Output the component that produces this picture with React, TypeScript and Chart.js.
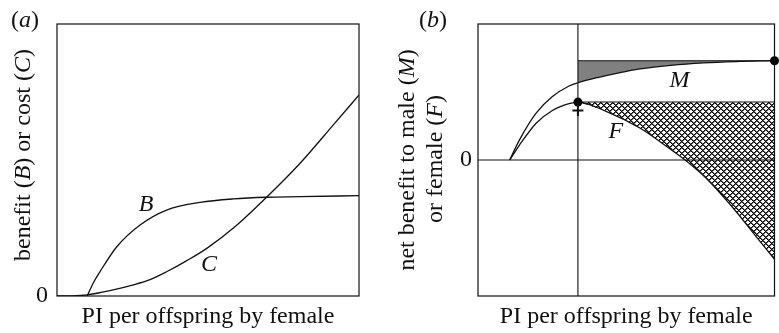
import React, { useEffect, useRef } from "react";
import { Chart, registerables } from "chart.js";

Chart.register(...registerables);

// ---------- Panel (a) data ----------
const benefitX = [1.0, 1.2, 1.42, 1.98, 2.75, 3.63, 4.74, 5.84, 6.94, 8.05, 10];
const benefitY = [0, 0.48, 0.89, 1.81, 2.61, 3.16, 3.44, 3.57, 3.63, 3.65, 3.69];
const costX = [0, 0.5, 1.0, 1.5, 2.0, 2.5, 3.08, 3.63, 4.3, 4.96, 5.95, 6.94, 8.05, 9.15, 10];
const costY = [0, 0.005, 0.04, 0.14, 0.26, 0.4, 0.6, 0.89, 1.3, 1.75, 2.6, 3.63, 4.88, 6.29, 7.39];

// ---------- Panel (b) data ----------
const maleX = [1.07, 1.4, 1.96, 2.51, 3.07, 3.37, 4.07, 4.83, 5.4, 6.5, 7.6, 8.7, 10];
const maleY = [0, 0.74, 1.72, 2.33, 2.72, 2.84, 3.04, 3.22, 3.34, 3.48, 3.57, 3.62, 3.65];
const femaleX = [1.07, 1.4, 1.96, 2.51, 3.07, 3.37, 4.34, 5.46, 6.34, 7.07, 7.68, 8.57, 9.34, 10];
const femaleY = [0, 0.55, 1.35, 1.82, 2.07, 2.13, 1.78, 1.175, 0.515, -0.07, -0.65, -1.72, -2.76, -3.65];
const femaleOptimumX = 3.37;
const femaleOptimumY = 2.13;
const maleOptimumX = 10;
const maleOptimumY = 3.65;

// ---------- Text ----------
type Seg = [string, boolean];
const xTitle = "PI per offspring by female";
const yTitleA: Seg[] = [["benefit (", false], ["B", true], [") or cost (", false], ["C", true], [")", false]];
const yTitleB1: Seg[] = [["net benefit to male (", false], ["M", true], [")", false]];
const yTitleB2: Seg[] = [["or female (", false], ["F", true], [")", false]];
const panelA: Seg[] = [["(", false], ["a", true], [")", false]];
const panelB: Seg[] = [["(", false], ["b", true], [")", false]];
const zeroTick = "0";
const curveLabelsA = [
  { text: "B", x: 2.95, y: 3.35 },
  { text: "C", x: 5.03, y: 1.14 },
];
const curveLabelsB = [
  { text: "M", x: 6.8, y: 2.93 },
  { text: "F", x: 4.65, y: 1.04 },
];

const FAMILY = '"Liberation Serif", "Times New Roman", Times, serif';
const SIZE = 24;
const INK = "#111";

const zip = (xs: number[], ys: number[]) => xs.map((x, i) => ({ x, y: ys[i] }));

function drawRich(ctx: CanvasRenderingContext2D, segs: Seg[], cx: number, cy: number, rot: number, size = SIZE) {
  ctx.save();
  ctx.translate(cx, cy);
  ctx.rotate(rot);
  ctx.textBaseline = "middle";
  ctx.textAlign = "left";
  ctx.fillStyle = INK;
  const widths = segs.map(([t, it]) => {
    ctx.font = `${it ? "italic " : ""}${size}px ${FAMILY}`;
    return ctx.measureText(t).width;
  });
  const total = widths.reduce((a, b) => a + b, 0);
  let x = -total / 2;
  segs.forEach(([t, it], i) => {
    ctx.font = `${it ? "italic " : ""}${size}px ${FAMILY}`;
    ctx.fillText(t, x, 0);
    x += widths[i];
  });
  ctx.restore();
}

function makeHatch(): CanvasPattern | string {
  const n = 6;
  const c = document.createElement("canvas");
  c.width = n;
  c.height = n;
  const g = c.getContext("2d");
  if (!g) return "#888";
  const img = g.createImageData(n, n);
  for (let j = 0; j < n; j++) {
    for (let i = 0; i < n; i++) {
      const a = (((i - j) % n) + n) % n;
      const b = (i + j) % n;
      let v = 255;
      if (a === 0 || b === 0) v = 0;
      else if (a === 1 || b === 1) v = 95;
      const k = (j * n + i) * 4;
      img.data[k] = v;
      img.data[k + 1] = v;
      img.data[k + 2] = v;
      img.data[k + 3] = 255;
    }
  }
  g.putImageData(img, 0, 0);
  const p = g.createPattern(c, "repeat");
  return p || "#888";
}

const curve = (data: { x: number; y: number }[]) => ({
  data,
  borderColor: INK,
  borderWidth: 1.3,
  pointRadius: 0,
  cubicInterpolationMode: "monotone" as const,
  fill: false,
});
const straight = (data: { x: number; y: number }[]) => ({
  data,
  borderColor: INK,
  borderWidth: 1.1,
  pointRadius: 0,
  tension: 0,
  fill: false,
});

const baseOptions = (ymin: number, ymax: number, padding: any, extra: any) => ({
  responsive: false,
  animation: false as const,
  devicePixelRatio: 1,
  events: [] as any[],
  layout: { padding },
  scales: {
    x: { type: "linear" as const, min: 0, max: 10, display: false },
    y: { type: "linear" as const, min: ymin, max: ymax, display: false },
  },
  plugins: { legend: { display: false }, tooltip: { enabled: false }, ...extra },
});

function drawZero(ctx: CanvasRenderingContext2D, x: number, y: number) {
  ctx.save();
  ctx.font = `${SIZE}px ${FAMILY}`;
  ctx.fillStyle = INK;
  ctx.textAlign = "right";
  ctx.textBaseline = "middle";
  ctx.fillText(zeroTick, x, y);
  ctx.restore();
}

export default function App() {
  const refA = useRef<HTMLCanvasElement>(null);
  const refB = useRef<HTMLCanvasElement>(null);

  useEffect(() => {
    if (!refA.current || !refB.current) return;
    let alive = true;

    const decorA = {
      id: "decorA",
      afterDraw(chart: any) {
        const { ctx, chartArea: a, scales } = chart;
        ctx.save();
        ctx.strokeStyle = INK;
        ctx.lineWidth = 1.2;
        ctx.strokeRect(a.left, a.top, a.right - a.left, a.bottom - a.top);
        ctx.restore();
        const cx = (a.left + a.right) / 2;
        drawRich(ctx, [[xTitle, false]], cx, 317, 0);
        drawRich(ctx, yTitleA, 24, 155, -Math.PI / 2);
        drawRich(ctx, panelA, 25, 21, 0);
        drawZero(ctx, a.left - 9, scales.y.getPixelForValue(0));
        curveLabelsA.forEach((l) =>
          drawRich(ctx, [[l.text, true]], scales.x.getPixelForValue(l.x), scales.y.getPixelForValue(l.y), 0)
        );
      },
    };

    const decorB = {
      id: "decorB",
      afterDraw(chart: any) {
        const { ctx, chartArea: a, scales } = chart;
        ctx.save();
        ctx.strokeStyle = INK;
        ctx.lineWidth = 1.2;
        ctx.strokeRect(a.left, a.top, a.right - a.left, a.bottom - a.top);
        // female symbol cross under optimum dot
        const px = scales.x.getPixelForValue(femaleOptimumX);
        const py = scales.y.getPixelForValue(femaleOptimumY);
        ctx.lineWidth = 2;
        ctx.beginPath();
        ctx.moveTo(px, py);
        ctx.lineTo(px, py + 14);
        ctx.moveTo(px - 5.5, py + 8.5);
        ctx.lineTo(px + 5.5, py + 8.5);
        ctx.stroke();
        ctx.restore();
        const cx = (a.left + a.right) / 2;
        drawRich(ctx, [[xTitle, false]], cx, 317, 0);
        drawRich(ctx, yTitleB1, 18, 160, -Math.PI / 2);
        drawRich(ctx, yTitleB2, 46, 159, -Math.PI / 2);
        drawRich(ctx, panelB, 43, 21, 0);
        drawZero(ctx, a.left - 6, scales.y.getPixelForValue(0));
        curveLabelsB.forEach((l) =>
          drawRich(ctx, [[l.text, true]], scales.x.getPixelForValue(l.x), scales.y.getPixelForValue(l.y), 0)
        );
      },
    };

    const chartA = new Chart(refA.current, {
      type: "line",
      data: {
        datasets: [curve(zip(benefitX, benefitY)), curve(zip(costX, costY))] as any,
      },
      options: baseOptions(0, 10, { left: 57, right: 31, top: 24, bottom: 37 }, {}) as any,
      plugins: [decorA],
    });

    const hatch = makeHatch();
    const mRight = zip(maleX, maleY).filter((p) => p.x >= femaleOptimumX);
    const fRight = zip(femaleX, femaleY).filter((p) => p.x >= femaleOptimumX);

    const chartB = new Chart(refB.current, {
      type: "line",
      data: {
        datasets: [
          {
            data: [
              { x: femaleOptimumX, y: femaleOptimumY },
              { x: maleOptimumX, y: maleOptimumY },
            ],
            showLine: false,
            pointRadius: 4.5,
            pointBackgroundColor: "#000",
            pointBorderColor: "#000",
            pointBorderWidth: 0,
            clip: false,
          },
          curve(zip(maleX, maleY)),
          curve(zip(femaleX, femaleY)),
          straight([
            { x: femaleOptimumX, y: maleOptimumY },
            { x: 10, y: maleOptimumY },
          ]),
          straight([
            { x: femaleOptimumX, y: femaleOptimumY },
            { x: 10, y: femaleOptimumY },
          ]),
          straight([
            { x: 0, y: 0 },
            { x: 10, y: 0 },
          ]),
          straight([
            { x: femaleOptimumX, y: -5 },
            { x: femaleOptimumX, y: 5 },
          ]),
          {
            data: mRight,
            borderWidth: 0,
            pointRadius: 0,
            cubicInterpolationMode: "monotone",
            backgroundColor: "#808080",
            fill: { value: maleOptimumY },
          },
          {
            data: fRight,
            borderWidth: 0,
            pointRadius: 0,
            cubicInterpolationMode: "monotone",
            backgroundColor: hatch,
            fill: { value: femaleOptimumY },
          },
        ] as any,
      },
      options: baseOptions(-5, 5, { left: 88, right: 1, top: 24, bottom: 37 }, { filler: { propagate: false } }) as any,
      plugins: [decorB],
    });

    const fonts = (document as any).fonts;
    if (fonts && fonts.load) {
      Promise.all([
        fonts.load(`${SIZE}px "Liberation Serif"`),
        fonts.load(`italic ${SIZE}px "Liberation Serif"`),
      ])
        .catch(() => null)
        .then(() => {
          if (!alive) return;
          chartA.update();
          chartB.update();
        });
    }

    return () => {
      alive = false;
      chartA.destroy();
      chartB.destroy();
    };
  }, []);

  return (
    <div style={{ position: "fixed", left: 0, top: 0, width: 779, height: 333, background: "#fff" }}>
      <canvas ref={refA} width={390} height={333} style={{ position: "absolute", left: 0, top: 0, width: 390, height: 333 }} />
      <canvas ref={refB} width={389} height={333} style={{ position: "absolute", left: 390, top: 0, width: 389, height: 333 }} />
    </div>
  );
}
